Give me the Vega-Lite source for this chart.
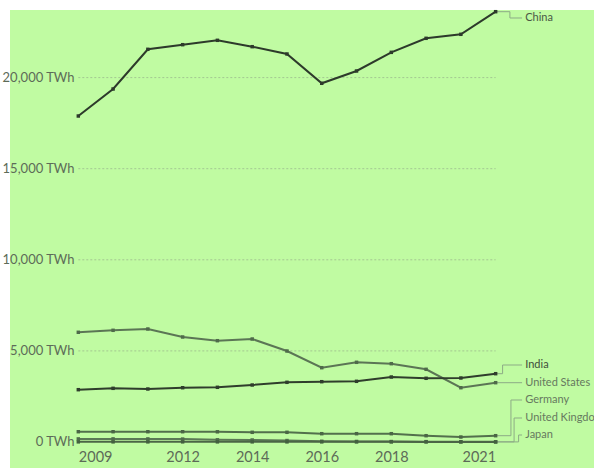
{
  "$schema": "https://vega.github.io/schema/vega-lite/v6.json",
  "width": 584,
  "height": 458,
  "autosize": {"type": "none"},
  "padding": {"left": 10, "top": 10, "right": 0, "bottom": 0},
  "background": "white",
  "config": {
    "view": {"fill": "#c0fba2", "stroke": null},
    "font": "Lato"
  },
  "datasets": {
    "main": [
      {"country": "China", "year": 2009, "value": 17892},
      {"country": "China", "year": 2010, "value": 19374},
      {"country": "China", "year": 2011, "value": 21553},
      {"country": "China", "year": 2012, "value": 21806},
      {"country": "China", "year": 2013, "value": 22046},
      {"country": "China", "year": 2014, "value": 21697},
      {"country": "China", "year": 2015, "value": 21295},
      {"country": "China", "year": 2016, "value": 19687},
      {"country": "China", "year": 2017, "value": 20362},
      {"country": "China", "year": 2018, "value": 21386},
      {"country": "China", "year": 2019, "value": 22156},
      {"country": "China", "year": 2020, "value": 22376},
      {"country": "China", "year": 2021, "value": 23617},
      {"country": "United States", "year": 2009, "value": 6021},
      {"country": "United States", "year": 2010, "value": 6130},
      {"country": "United States", "year": 2011, "value": 6202},
      {"country": "United States", "year": 2012, "value": 5763},
      {"country": "United States", "year": 2013, "value": 5560},
      {"country": "United States", "year": 2014, "value": 5653},
      {"country": "United States", "year": 2015, "value": 4994},
      {"country": "United States", "year": 2016, "value": 4078},
      {"country": "United States", "year": 2017, "value": 4374},
      {"country": "United States", "year": 2018, "value": 4298},
      {"country": "United States", "year": 2019, "value": 3990},
      {"country": "United States", "year": 2020, "value": 2980},
      {"country": "United States", "year": 2021, "value": 3255},
      {"country": "India", "year": 2009, "value": 2871},
      {"country": "India", "year": 2010, "value": 2946},
      {"country": "India", "year": 2011, "value": 2909},
      {"country": "India", "year": 2012, "value": 2980},
      {"country": "India", "year": 2013, "value": 3002},
      {"country": "India", "year": 2014, "value": 3128},
      {"country": "India", "year": 2015, "value": 3276},
      {"country": "India", "year": 2016, "value": 3310},
      {"country": "India", "year": 2017, "value": 3331},
      {"country": "India", "year": 2018, "value": 3567},
      {"country": "India", "year": 2019, "value": 3496},
      {"country": "India", "year": 2020, "value": 3513},
      {"country": "India", "year": 2021, "value": 3749},
      {"country": "Germany", "year": 2009, "value": 565},
      {"country": "Germany", "year": 2010, "value": 565},
      {"country": "Germany", "year": 2011, "value": 565},
      {"country": "Germany", "year": 2012, "value": 565},
      {"country": "Germany", "year": 2013, "value": 560},
      {"country": "Germany", "year": 2014, "value": 532},
      {"country": "Germany", "year": 2015, "value": 532},
      {"country": "Germany", "year": 2016, "value": 456},
      {"country": "Germany", "year": 2017, "value": 456},
      {"country": "Germany", "year": 2018, "value": 456},
      {"country": "Germany", "year": 2019, "value": 346},
      {"country": "Germany", "year": 2020, "value": 274},
      {"country": "Germany", "year": 2021, "value": 346},
      {"country": "United Kingdom", "year": 2009, "value": 170},
      {"country": "United Kingdom", "year": 2010, "value": 170},
      {"country": "United Kingdom", "year": 2011, "value": 170},
      {"country": "United Kingdom", "year": 2012, "value": 160},
      {"country": "United Kingdom", "year": 2013, "value": 120},
      {"country": "United Kingdom", "year": 2014, "value": 110},
      {"country": "United Kingdom", "year": 2015, "value": 80},
      {"country": "United Kingdom", "year": 2016, "value": 40},
      {"country": "United Kingdom", "year": 2017, "value": 30},
      {"country": "United Kingdom", "year": 2018, "value": 25},
      {"country": "United Kingdom", "year": 2019, "value": 20},
      {"country": "United Kingdom", "year": 2020, "value": 12},
      {"country": "United Kingdom", "year": 2021, "value": 8},
      {"country": "Japan", "year": 2009, "value": 8},
      {"country": "Japan", "year": 2010, "value": 8},
      {"country": "Japan", "year": 2011, "value": 8},
      {"country": "Japan", "year": 2012, "value": 8},
      {"country": "Japan", "year": 2013, "value": 8},
      {"country": "Japan", "year": 2014, "value": 8},
      {"country": "Japan", "year": 2015, "value": 7},
      {"country": "Japan", "year": 2016, "value": 7},
      {"country": "Japan", "year": 2017, "value": 7},
      {"country": "Japan", "year": 2018, "value": 7},
      {"country": "Japan", "year": 2019, "value": 6},
      {"country": "Japan", "year": 2020, "value": 6},
      {"country": "Japan", "year": 2021, "value": 5}
    ],
    "grid": [
      {"value": 5000},
      {"value": 10000},
      {"value": 15000},
      {"value": 20000}
    ],
    "connectors": [
      {"country": "China", "ord": 1, "year": 2021, "value": 23617},
      {"country": "China", "ord": 2, "year": 2021.41, "value": 23617},
      {"country": "China", "ord": 3, "year": 2021.41, "value": 23271},
      {"country": "China", "ord": 4, "year": 2021.76, "value": 23271},
      {"country": "India", "ord": 1, "year": 2021, "value": 3749},
      {"country": "India", "ord": 2, "year": 2021.2, "value": 3749},
      {"country": "India", "ord": 3, "year": 2021.2, "value": 4226},
      {"country": "India", "ord": 4, "year": 2021.76, "value": 4226},
      {"country": "United States", "ord": 1, "year": 2021, "value": 3255},
      {"country": "United States", "ord": 2, "year": 2021.76, "value": 3255},
      {"country": "Germany", "ord": 1, "year": 2021, "value": 346},
      {"country": "Germany", "ord": 2, "year": 2021.44, "value": 346},
      {"country": "Germany", "ord": 3, "year": 2021.44, "value": 2305},
      {"country": "Germany", "ord": 4, "year": 2021.76, "value": 2305},
      {"country": "United Kingdom", "ord": 1, "year": 2021, "value": 8},
      {"country": "United Kingdom", "ord": 2, "year": 2021.53, "value": 8},
      {"country": "United Kingdom", "ord": 3, "year": 2021.53, "value": 1317},
      {"country": "United Kingdom", "ord": 4, "year": 2021.76, "value": 1317},
      {"country": "Japan", "ord": 1, "year": 2021, "value": 5},
      {"country": "Japan", "ord": 2, "year": 2021.66, "value": 5},
      {"country": "Japan", "ord": 3, "year": 2021.66, "value": 384},
      {"country": "Japan", "ord": 4, "year": 2021.76, "value": 384}
    ],
    "labels": [
      {"country": "China", "year": 2021.85, "value": 23271},
      {"country": "India", "year": 2021.85, "value": 4226},
      {"country": "United States", "year": 2021.85, "value": 3255},
      {"country": "Germany", "year": 2021.85, "value": 2305},
      {"country": "United Kingdom", "year": 2021.85, "value": 1317},
      {"country": "Japan", "year": 2021.85, "value": 384}
    ]
  },
  "layer": [
    {
      "data": {"name": "grid"},
      "mark": {"type": "rule", "stroke": "#a3c792", "strokeWidth": 1, "strokeDash": [2, 2]},
      "encoding": {
        "x": {"datum": 2009, "type": "quantitative", "scale": {"domain": [2007.036, 2023.828], "nice": false, "zero": false}},
        "x2": {"datum": 2021},
        "y": {"field": "value", "type": "quantitative", "scale": {"domain": [-1427, 23710], "nice": false, "zero": false}}
      }
    },
    {
      "data": {"name": "connectors"},
      "mark": {"type": "line", "stroke": "#8dab86", "strokeWidth": 1},
      "encoding": {
        "x": {"field": "year", "type": "quantitative"},
        "y": {"field": "value", "type": "quantitative"},
        "detail": {"field": "country"},
        "order": {"field": "ord"}
      }
    },
    {
      "data": {"name": "main"},
      "mark": {"type": "line", "strokeWidth": 2},
      "encoding": {
        "x": {
          "field": "year", "type": "quantitative",
          "axis": {
            "orient": "bottom",
            "values": [2009, 2012, 2014, 2016, 2018, 2021],
            "format": "d",
            "domain": false,
            "ticks": false,
            "grid": false,
            "title": null,
            "labelPadding": -18,
            "labelBaseline": "top",
            "labelFont": "Lato",
            "labelFontSize": 14.5,
            "labelColor": "#5d6b58",
            "labelAlign": {"condition": [{"test": "datum.value == 2009", "value": "left"}, {"test": "datum.value == 2021", "value": "right"}], "value": "center"}
          }
        },
        "y": {
          "field": "value", "type": "quantitative",
          "axis": {
            "values": [0, 5000, 10000, 15000, 20000],
            "labelExpr": "format(datum.value, ',') + ' TWh'",
            "domain": false,
            "ticks": false,
            "grid": false,
            "title": null,
            "labelPadding": -64,
            "labelAlign": "right",
            "labelFont": "Lato",
            "labelFontSize": 13,
            "labelColor": "#5d6b58"
          }
        },
        "color": {
          "field": "country", "type": "nominal", "legend": null,
          "scale": {
            "domain": ["China", "India", "United States", "Germany", "United Kingdom", "Japan"],
            "range": ["#2d3a2b", "#2f3d2c", "#5b7555", "#52704c", "#5a7855", "#4b6546"]
          }
        },
        "detail": {"field": "country"}
      }
    },
    {
      "data": {"name": "main"},
      "mark": {"type": "point", "shape": "square", "filled": true, "size": 12, "opacity": 1},
      "encoding": {
        "x": {"field": "year", "type": "quantitative"},
        "y": {"field": "value", "type": "quantitative"},
        "color": {
          "field": "country", "type": "nominal", "legend": null,
          "scale": {
            "domain": ["China", "India", "United States", "Germany", "United Kingdom", "Japan"],
            "range": ["#2d3a2b", "#2f3d2c", "#4f6a4a", "#4a6645", "#4f6b4b", "#43603f"]
          }
        }
      }
    },
    {
      "data": {"name": "labels"},
      "mark": {"type": "text", "align": "left", "baseline": "middle", "font": "Lato", "fontSize": 11},
      "encoding": {
        "x": {"field": "year", "type": "quantitative"},
        "y": {"field": "value", "type": "quantitative"},
        "text": {"field": "country"},
        "color": {
          "field": "country", "type": "nominal", "legend": null,
          "scale": {
            "domain": ["China", "India", "United States", "Germany", "United Kingdom", "Japan"],
            "range": ["#4a5846", "#3f4d3b", "#66795f", "#66795f", "#66795f", "#66795f"]
          }
        }
      }
    }
  ],
  "resolve": {"scale": {"color": "independent"}}
}
